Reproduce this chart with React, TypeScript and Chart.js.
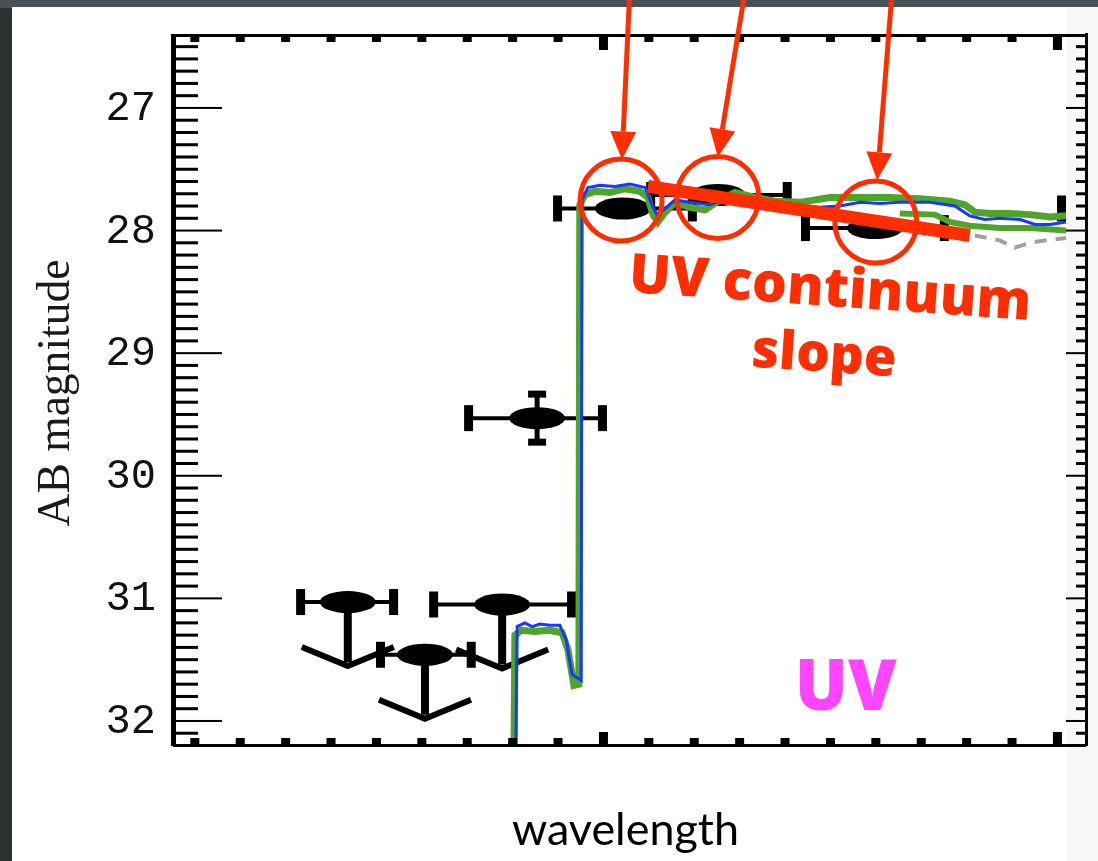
import React, { useEffect, useRef } from "react";
import { Chart, registerables } from "chart.js";

Chart.register(...registerables);

const W = 1098;
const H = 861;

// ---- axes ----
const yTickValues = [27, 28, 29, 30, 31, 32];
const yTickLabels = ["27", "28", "29", "30", "31", "32"];
const xMin = 0.053;
const xMax = 2.064;
const yMin = 26.405;
const yMax = 32.196;

// ---- model spectra (wavelength, AB magnitude) ----
const greenWave = [0.804, 0.806, 0.821, 0.85, 0.883, 0.91, 0.923, 0.936, 0.947, 0.949, 0.96, 0.982, 1.015, 1.048, 1.081, 1.099, 1.11, 1.121, 1.137, 1.159, 1.192, 1.225, 1.258, 1.291, 1.335, 1.379, 1.434, 1.5, 1.566, 1.632, 1.698, 1.764, 1.797, 1.819, 1.852, 1.896, 1.941, 1.985, 2.02];
const greenMag = [32.3, 31.3, 31.26, 31.27, 31.26, 31.28, 31.42, 31.71, 31.7, 27.79, 27.71, 27.68, 27.69, 27.66, 27.68, 27.73, 27.87, 27.93, 27.85, 27.77, 27.81, 27.83, 27.75, 27.69, 27.73, 27.76, 27.77, 27.73, 27.73, 27.73, 27.74, 27.76, 27.79, 27.85, 27.86, 27.86, 27.87, 27.89, 27.88];

const blueWave = [0.808, 0.811, 0.828, 0.844, 0.861, 0.883, 0.905, 0.919, 0.932, 0.952, 0.954, 0.967, 0.993, 1.026, 1.059, 1.093, 1.108, 1.119, 1.137, 1.159, 1.192, 1.236, 1.28, 1.346, 1.412, 1.478, 1.522, 1.566, 1.61, 1.654, 1.72, 1.775, 1.808, 1.841, 1.874, 1.919, 1.952, 1.985, 2.02];
const blueMag = [32.3, 31.23, 31.2, 31.23, 31.21, 31.22, 31.22, 31.34, 31.62, 31.67, 27.75, 27.65, 27.63, 27.64, 27.62, 27.65, 27.79, 27.87, 27.82, 27.75, 27.77, 27.79, 27.73, 27.78, 27.79, 27.81, 27.8, 27.77, 27.78, 27.77, 27.77, 27.8, 27.88, 27.91, 27.9, 27.91, 27.95, 27.95, 27.93];

const green2Wave = [1.654, 1.731, 1.764, 1.808, 1.874, 1.941, 2.02];
const green2Mag = [27.86, 27.87, 27.93, 27.96, 27.98, 27.98, 28.0];

const grayWave = [1.819, 1.874, 1.907, 1.941, 1.974, 2.02];
const grayMag = [28.04, 28.08, 28.14, 28.1, 28.08, 28.06];

// ---- photometry ----
const photWave = [0.438, 0.608, 0.778, 0.855, 1.044, 1.253, 1.599, 2.17];
const photWaveLo = [0.333, 0.509, 0.626, 0.703, 0.899, 1.104, 1.445, 2.009];
const photWaveHi = [0.54, 0.711, 0.932, 1.0, 1.198, 1.407, 1.753, 2.33];
const photMag = [31.03, 31.46, 31.05, 29.53, 27.82, 27.71, 27.98, 27.82];
const photMagErr = [0, 0, 0, 0.2, 0, 0, 0, 0];
const photUpperLimit = [true, true, true, false, false, false, false, false];

// ---- annotations ----
const circleWave = [1.04, 1.253, 1.601];
const circleMag = [27.75, 27.73, 27.93];
const arrowFromWave = [1.059, 1.313, 1.637];
const arrowFromMag = [26.05, 26.05, 26.05];
const arrowToWave = [1.042, 1.253, 1.604];
const arrowToMag = [27.42, 27.4, 27.59];
const slopeWave = [1.099, 1.808];
const slopeMag = [27.64, 28.04];

const RED = "#ff2e00";

function pts(xs: number[], ys: number[]) {
  return xs.map((x, i) => ({ x, y: ys[i] }));
}

function fitFont(ctx: CanvasRenderingContext2D, text: string, weight: string, family: string, target: number) {
  ctx.font = `${weight} 100px ${family}`;
  const w = ctx.measureText(text).width;
  const size = (100 * target) / w;
  ctx.font = `${weight} ${size}px ${family}`;
  return size;
}

const backgroundPlugin = {
  id: "bg",
  beforeDraw(chart: any) {
    const ctx = chart.ctx as CanvasRenderingContext2D;
    ctx.save();
    ctx.fillStyle = "#3a3f42";
    ctx.fillRect(0, 0, W, H);
    ctx.fillStyle = "#4a5154";
    ctx.fillRect(0, 0, W, 8);
    ctx.fillStyle = "#2c3032";
    ctx.fillRect(0, 8, 12, H);
    ctx.fillStyle = "#ffffff";
    ctx.fillRect(12, 7, W - 12, H - 7);
    ctx.fillStyle = "#f8f8f8";
    ctx.fillRect(1066, 8, W - 1066, H - 8);
    ctx.restore();
  },
};

const photometryPlugin = {
  id: "phot",
  beforeDatasetsDraw(chart: any) {
    const ctx = chart.ctx as CanvasRenderingContext2D;
    const xs = chart.scales.x;
    const ys = chart.scales.y;
    const ca = chart.chartArea;
    const clipRight = xs.getPixelForValue(greenWave[greenWave.length - 1]);
    ctx.save();
    ctx.beginPath();
    ctx.rect(ca.left, ca.top, clipRight - ca.left, ca.bottom - ca.top);
    ctx.clip();
    ctx.fillStyle = "#000";
    ctx.strokeStyle = "#000";
    for (let i = 0; i < photWave.length; i++) {
      const cx = xs.getPixelForValue(photWave[i]);
      const cy = ys.getPixelForValue(photMag[i]);
      const x0 = xs.getPixelForValue(photWaveLo[i]);
      const x1 = xs.getPixelForValue(photWaveHi[i]);
      // horizontal error bar
      ctx.lineWidth = 4;
      ctx.beginPath();
      ctx.moveTo(x0, cy);
      ctx.lineTo(x1, cy);
      ctx.stroke();
      ctx.fillRect(x0 - 4, cy - 13, 9, 26);
      ctx.fillRect(x1 - 5, cy - 13, 9, 26);
      // vertical error
      if (photMagErr[i] > 0) {
        const ya = ys.getPixelForValue(photMag[i] - photMagErr[i]);
        const yb = ys.getPixelForValue(photMag[i] + photMagErr[i]);
        ctx.lineWidth = 5;
        ctx.beginPath();
        ctx.moveTo(cx, ya);
        ctx.lineTo(cx, yb);
        ctx.stroke();
        ctx.fillRect(cx - 9, ya - 3, 18, 7);
        ctx.fillRect(cx - 9, yb - 4, 18, 7);
      }
      if (photUpperLimit[i]) {
        const tip = cy + 64;
        ctx.lineWidth = 8;
        ctx.beginPath();
        ctx.moveTo(cx, cy);
        ctx.lineTo(cx, tip - 4);
        ctx.stroke();
        ctx.lineWidth = 6;
        ctx.lineJoin = "miter";
        ctx.beginPath();
        ctx.moveTo(cx - 46, tip - 19);
        ctx.lineTo(cx, tip);
        ctx.lineTo(cx + 46, tip - 19);
        ctx.stroke();
      }
      ctx.beginPath();
      ctx.ellipse(cx, cy, 28, 11, 0, 0, Math.PI * 2);
      ctx.fill();
    }
    ctx.restore();
  },
};

const axesPlugin = {
  id: "axes",
  afterDatasetsDraw(chart: any) {
    const ctx = chart.ctx as CanvasRenderingContext2D;
    const xs = chart.scales.x;
    const ys = chart.scales.y;
    const ca = chart.chartArea;
    ctx.save();
    ctx.fillStyle = "#000";
    // frame
    ctx.fillRect(ca.left - 2, ca.top - 1, 5, ca.bottom - ca.top + 2);
    ctx.fillRect(ca.left, ca.top - 1, ca.right - ca.left, 3);
    ctx.fillRect(ca.left, ca.bottom - 1, ca.right - ca.left, 3);
    ctx.fillRect(ca.right - 1, ca.top - 2, 3, ca.bottom - ca.top + 3);
    // y ticks
    for (let i = 265; i <= 321; i++) {
      const y = ys.getPixelForValue(i / 10);
      if (y < ca.top + 2 || y > ca.bottom - 2) continue;
      if (i % 10 === 0) {
        ctx.fillRect(ca.left, y - 1, 49, 2);
        ctx.fillRect(ca.right - 20, y - 1, 20, 2);
      } else {
        ctx.fillRect(ca.left, y - 1.5, 25, 3);
        ctx.fillRect(ca.right - 10, y - 1.5, 10, 3);
      }
    }
    // x ticks
    for (let i = 1; i <= 21; i++) {
      const x = xs.getPixelForValue(i / 10);
      if (x < ca.left + 4 || x > ca.right - 4) continue;
      const major = i % 10 === 0;
      ctx.fillRect(x - 4, ca.top, 9, major ? 15 : 7);
      ctx.fillRect(x - 4, ca.bottom - (major ? 13 : 7), 9, major ? 13 : 7);
    }
    // tick labels
    ctx.fillStyle = "#111";
    ctx.font = '42px "Liberation Mono"';
    ctx.textAlign = "right";
    ctx.textBaseline = "middle";
    yTickValues.forEach((v, i) => {
      ctx.fillText(yTickLabels[i], ca.left - 17, ys.getPixelForValue(v) + 1);
    });
    // y title
    ctx.save();
    ctx.translate(57, (ca.top + ca.bottom) / 2 + 3);
    ctx.rotate(-Math.PI / 2);
    ctx.textAlign = "center";
    ctx.textBaseline = "middle";
    fitFont(ctx, "AB magnitude", "normal", '"Liberation Serif"', 267);
    ctx.fillStyle = "#1a1a1a";
    ctx.fillText("AB magnitude", 0, 0);
    ctx.restore();
    // x title
    ctx.fillStyle = "#000";
    ctx.textAlign = "center";
    ctx.textBaseline = "alphabetic";
    fitFont(ctx, "wavelength", "normal", "Lato", 227);
    ctx.fillText("wavelength", (ca.left + ca.right) / 2 - 4, ca.bottom + 100);
    ctx.restore();

    // ---- red annotations ----
    ctx.save();
    ctx.strokeStyle = RED;
    ctx.fillStyle = RED;
    ctx.lineCap = "butt";
    for (let i = 0; i < circleWave.length; i++) {
      const cx = xs.getPixelForValue(circleWave[i]);
      const cy = ys.getPixelForValue(circleMag[i]);
      ctx.lineWidth = 5;
      ctx.beginPath();
      ctx.arc(cx, cy, 41, 0, Math.PI * 2);
      ctx.stroke();
      const ax0 = xs.getPixelForValue(arrowFromWave[i]);
      const ay0 = ys.getPixelForValue(arrowFromMag[i]);
      const ax1 = xs.getPixelForValue(arrowToWave[i]);
      const ay1 = ys.getPixelForValue(arrowToMag[i]);
      const ang = Math.atan2(ay1 - ay0, ax1 - ax0);
      const hl = 28;
      const hw = 13;
      const bx = ax1 - hl * Math.cos(ang);
      const by = ay1 - hl * Math.sin(ang);
      ctx.lineWidth = 5;
      ctx.beginPath();
      ctx.moveTo(ax0, ay0);
      ctx.lineTo(bx, by);
      ctx.stroke();
      ctx.beginPath();
      ctx.moveTo(ax1, ay1);
      ctx.lineTo(bx + hw * Math.sin(ang), by - hw * Math.cos(ang));
      ctx.lineTo(bx - hw * Math.sin(ang), by + hw * Math.cos(ang));
      ctx.closePath();
      ctx.fill();
    }
    // slope line
    ctx.lineWidth = 13;
    ctx.beginPath();
    ctx.moveTo(xs.getPixelForValue(slopeWave[0]), ys.getPixelForValue(slopeMag[0]));
    ctx.lineTo(xs.getPixelForValue(slopeWave[1]), ys.getPixelForValue(slopeMag[1]));
    ctx.stroke();
    // texts
    const textAngle = (4 * Math.PI) / 180;
    ctx.textAlign = "center";
    ctx.textBaseline = "alphabetic";
    ctx.save();
    ctx.translate(xs.getPixelForValue(1.498), ys.getPixelForValue(28.615));
    ctx.rotate(textAngle);
    fitFont(ctx, "UV continuum", "800", '"Open Sans"', 403);
    ctx.fillText("UV continuum", 0, 0);
    ctx.restore();
    ctx.save();
    ctx.translate(xs.getPixelForValue(1.485), ys.getPixelForValue(29.15));
    ctx.rotate(textAngle);
    fitFont(ctx, "slope", "800", '"Open Sans"', 145);
    ctx.fillText("slope", 0, 0);
    ctx.restore();
    ctx.fillStyle = "#ff45ff";
    fitFont(ctx, "UV", "800", '"Open Sans"', 102);
    ctx.fillText("UV", xs.getPixelForValue(1.535), ys.getPixelForValue(31.91));
    ctx.restore();
  },
};

export default function App() {
  const ref = useRef<HTMLCanvasElement>(null);
  useEffect(() => {
    const canvas = ref.current!;
    const chart = new Chart(canvas, {
      type: "line",
      data: {
        datasets: [
          {
            label: "model blue",
            data: pts(blueWave, blueMag),
            borderColor: "#1638ff",
            borderWidth: 3,
            pointRadius: 0,
            order: 1,
          },
          {
            label: "model green",
            data: pts(greenWave, greenMag),
            borderColor: "#4fa52b",
            borderWidth: 7,
            pointRadius: 0,
            order: 2,
          },
          {
            label: "model green 2",
            data: pts(green2Wave, green2Mag),
            borderColor: "#4fa52b",
            borderWidth: 6,
            pointRadius: 0,
            order: 3,
          },
          {
            label: "model gray",
            data: pts(grayWave, grayMag),
            borderColor: "#a0a0a0",
            borderWidth: 4,
            borderDash: [12, 9],
            pointRadius: 0,
            order: 4,
          },
        ],
      },
      options: {
        responsive: false,
        animation: false,
        events: [],
        layout: { padding: { left: 173, right: 12, top: 35, bottom: 116 } },
        plugins: { legend: { display: false }, tooltip: { enabled: false } },
        scales: {
          x: { type: "linear", min: xMin, max: xMax, display: false },
          y: { type: "linear", min: yMin, max: yMax, reverse: true, display: false },
        },
      },
      plugins: [backgroundPlugin, photometryPlugin, axesPlugin],
    } as any);
    return () => chart.destroy();
  }, []);
  return (
    <div style={{ position: "fixed", left: 0, top: 0, width: W, height: H }}>
      <canvas ref={ref} width={W} height={H} style={{ display: "block", width: W, height: H }} />
    </div>
  );
}
